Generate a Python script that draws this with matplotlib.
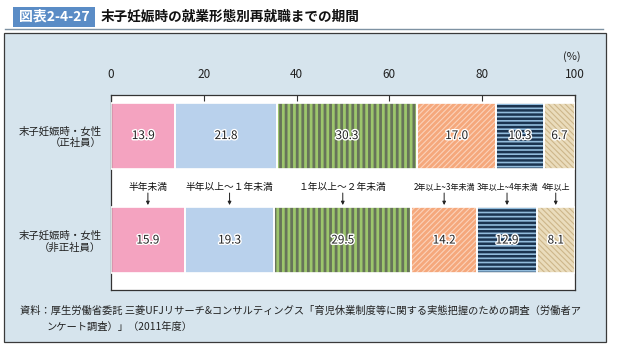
"""
末子妊娠時の就業形態別再就職までの期間 (図表2-4-27) - 100% stacked bars.
"""

import matplotlib.pyplot as plt
import matplotlib.patheffects as pe
from matplotlib.patches import Rectangle
from matplotlib.lines import Line2D

plt.rcParams['font.family'] = ['Noto Sans CJK JP', 'DejaVu Sans']

# data
rows = ['末子妊娠時・女性\n（正社員）', '末子妊娠時・女性\n（非正社員）']
periods = ['半年未満', '半年以上～１年未満', '１年以上～２年未満',
           '2年以上~3年未満', '3年以上~4年未満', '4年以上']
seishain = [13.9, 21.8, 30.3, 17.0, 10.3, 6.7]
hiseishain = [15.9, 19.3, 29.5, 14.2, 12.9, 8.1]
xticks = [0, 20, 40, 60, 80, 100]

# style per period: face, hatch, hatch colour, hatch width
styles = [
    ('#f4a3c0', None, '#f4a3c0', 1.0),
    ('#b9d1ec', None, '#b9d1ec', 1.0),
    ('#9dc66c', '|||', '#67735a', 2.0),
    ('#f5a87c', '//////', '#fbd2ba', 0.8),
    ('#92bcdc', '----', '#1b3450', 1.8),
    ('#eadcbc', '\\\\\\\\\\\\', '#cdb68a', 0.8),
]
label_sizes = [7, 7, 7, 5.8, 5.8, 5.8]

W, H = 624, 359
fig = plt.figure(figsize=(W / 100, H / 100), dpi=100)
fig.patch.set_facecolor('white')


def fx(px):
    return px / W


def fy(py):
    return 1 - py / H


# background panel
fig.patches.append(Rectangle((fx(4), fy(342)), fx(602), 309 / H,
                             transform=fig.transFigure, facecolor='#d6e4ed',
                             edgecolor='#3a3a3a', linewidth=0.9, zorder=-2))
# title
fig.patches.append(Rectangle((fx(13), fy(27)), fx(82), 20 / H,
                             transform=fig.transFigure, facecolor='#5a8cc6',
                             edgecolor='none', zorder=-1))
fig.text(fx(54), fy(17), '図表2-4-27', color='white', fontsize=10,
         fontweight='bold', ha='center', va='center')
fig.text(fx(101), fy(17), '末子妊娠時の就業形態別再就職までの期間', color='#111111',
         fontsize=9.8, fontweight='bold', ha='left', va='center')
fig.lines.append(Line2D([fx(5), fx(603)], [fy(29), fy(29)],
                        transform=fig.transFigure, color='#7e92a3', lw=1.0))

ax = fig.add_axes([fx(111), fy(290), fx(464), 195 / H])
ax.set_facecolor('white')
ax.set_xlim(0, 100)
ax.set_ylim(1.478, -0.388)

bar_h = 0.632
for r, vals in enumerate([seishain, hiseishain]):
    left = 0
    for i, v in enumerate(vals):
        face, hatch, hcol, hlw = styles[i]
        b = ax.barh(r, v, left=left, height=bar_h, color=face,
                    edgecolor=hcol, linewidth=0, hatch=hatch, zorder=2)
        for p in b:
            if hasattr(p, 'set_hatch_linewidth'):
                p.set_hatch_linewidth(hlw)
        ax.barh(r, v, left=left, height=bar_h, color='none',
                edgecolor='white', linewidth=1.2, zorder=3)
        ax.text(left + v / 2, r, f'{v:.1f}', ha='center', va='center',
                fontsize=8.5, color='#222222', zorder=4,
                path_effects=[pe.withStroke(linewidth=2, foreground='white')])
        left += v

# period labels with arrows pointing at the second row
left = 0
for i, v in enumerate(hiseishain):
    xc = left + v / 2
    ax.text(xc, 0.493, periods[i], ha='center', va='center',
            fontsize=label_sizes[i], color='#111111', zorder=4)
    ax.annotate('', xy=(xc, 0.665), xytext=(xc, 0.55),
                arrowprops=dict(arrowstyle='-|>', color='#222222', lw=0.7,
                                mutation_scale=5, shrinkA=0, shrinkB=0),
                zorder=4)
    left += v

ax.set_yticks([0, 1])
ax.set_yticklabels(rows, fontsize=7.5, color='#222222', ha='right')
ax.tick_params(axis='y', length=0, pad=7)
ax.set_xticks(xticks)
ax.xaxis.tick_top()
ax.tick_params(axis='x', direction='in', length=4, width=0.8, pad=10,
               labelsize=8.5, color='#333333', labelcolor='#222222')
for s in ax.spines.values():
    s.set_color('#333333')
    s.set_linewidth(0.9)

fig.text(fx(572), fy(57), '(%)', fontsize=8, ha='center', va='center',
         color='#222222')

# source
fig.text(fx(20), fy(311),
         '資料：厚生労働省委託 三菱UFJリサーチ&コンサルティングス「育児休業制度等に関する実態把握のための調査（労働者ア',
         fontsize=7.4, ha='left', va='center', color='#222222')
fig.text(fx(47), fy(327), 'ンケート調査）」（2011年度）',
         fontsize=7.4, ha='left', va='center', color='#222222')

fig.savefig('out.png', dpi=100)
